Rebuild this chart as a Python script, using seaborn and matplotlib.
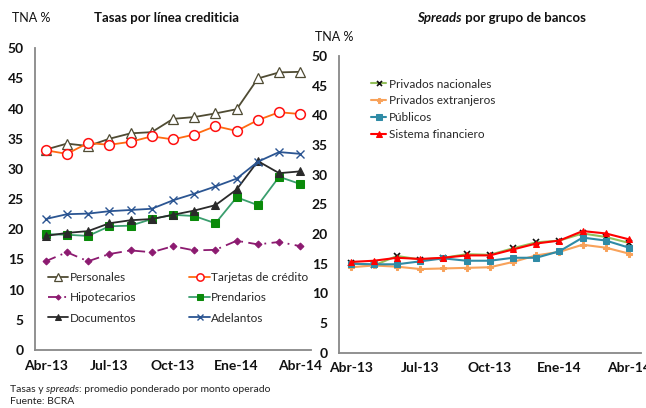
import numpy as np
import pandas as pd
import matplotlib.pyplot as plt
import seaborn as sns

sns.set_style("white")
plt.rcParams['font.family'] = ['Lato', 'DejaVu Sans']

months = ["Abr-13", "May-13", "Jun-13", "Jul-13", "Ago-13", "Sep-13", "Oct-13",
          "Nov-13", "Dic-13", "Ene-14", "Feb-14", "Mar-14", "Abr-14"]
tick_labels = ["Abr-13", "Jul-13", "Oct-13", "Ene-14", "Abr-14"]

# left panel: tasas por linea
personales = [33.2, 34.2, 33.8, 35.0, 35.9, 36.1, 38.3, 38.6, 39.2, 39.9, 45.0, 46.0, 46.1]
tarjetas = [33.1, 32.5, 34.3, 34.0, 34.5, 35.4, 34.9, 35.7, 37.1, 36.3, 38.1, 39.4, 39.1]
hipotecarios = [14.7, 16.2, 14.7, 15.9, 16.5, 16.2, 17.2, 16.5, 16.6, 18.1, 17.5, 17.9, 17.2]
prendarios = [19.2, 19.1, 18.9, 20.5, 20.6, 21.7, 22.4, 22.2, 21.0, 25.3, 24.0, 28.7, 27.5]
documentos = [18.9, 19.4, 19.7, 21.0, 21.5, 21.7, 22.4, 23.1, 24.0, 26.6, 31.3, 29.3, 29.6]
adelantos = [21.7, 22.5, 22.6, 23.0, 23.2, 23.4, 24.8, 25.9, 27.1, 28.4, 31.2, 32.8, 32.5]

# right panel: spreads por grupo de bancos
priv_nac = [15.1, 14.7, 16.3, 15.7, 16.0, 16.6, 16.5, 17.6, 18.6, 18.9, 20.1, 19.5, 18.5]
priv_ext = [14.4, 14.7, 14.5, 14.1, 14.2, 14.3, 14.4, 15.3, 16.4, 17.0, 18.2, 17.7, 16.7]
publicos = [15.0, 14.9, 14.9, 15.4, 15.9, 15.5, 15.5, 16.0, 16.0, 17.1, 19.4, 18.9, 17.7]
sistema = [15.3, 15.5, 16.0, 15.8, 16.0, 16.4, 16.4, 17.4, 18.4, 18.9, 20.5, 20.1, 19.1]

x = np.arange(len(months))

fig = plt.figure(figsize=(6.46, 4.08), dpi=100)
ax1 = fig.add_axes([0.0542, 0.1422, 0.4272, 0.7395])
ax2 = fig.add_axes([0.5248, 0.1355, 0.4669, 0.7272])

left_series = [
    ("Personales", personales, dict(color="#4f4b33", marker="^", mfc="white", mec="#4f4b33", ms=7, mew=0.9)),
    ("Tarjetas de crédito", tarjetas, dict(color="#ff6a10", marker="o", mfc="white", mec="#ff1010", ms=7, mew=1.1)),
    ("Hipotecarios", hipotecarios, dict(color="#8c1a70", marker="D", mfc="#8c1a70", mec="#8c1a70", ms=3.5, linestyle=(0, (6, 3, 1, 3)))),
    ("Prendarios", prendarios, dict(color="#3a9e6e", marker="s", mfc="#0a8a0a", mec="#0a8a0a", ms=6)),
    ("Documentos", documentos, dict(color="#2a2a2a", marker="^", mfc="#2a2a2a", mec="#2a2a2a", ms=5.5)),
    ("Adelantos", adelantos, dict(color="#2b5592", marker="x", mec="#2b5592", ms=6, mew=1.0)),
]
for name, vals, kw in left_series:
    sns.lineplot(x=x, y=vals, ax=ax1, label=name, linewidth=1.3, **kw)

right_series = [
    ("Privados nacionales", priv_nac, dict(color="#93c05a", marker="x", mec="#111111", ms=4.5, mew=1.2)),
    ("Privados extranjeros", priv_ext, dict(color="#f8a25a", marker="P", mfc="#f8a25a", mec="#f8a25a", ms=4.5)),
    ("Públicos", publicos, dict(color="#2f8ba6", marker="s", mfc="#2f8ba6", mec="#2f8ba6", ms=5)),
    ("Sistema financiero", sistema, dict(color="#ff0000", marker="^", mfc="#ff0000", mec="#ff0000", ms=5)),
]
for name, vals, kw in right_series:
    sns.lineplot(x=x, y=vals, ax=ax2, label=name, linewidth=1.5, **kw)

for ax in (ax1, ax2):
    ax.set_xlim(-0.5, 12.5)
    ax.set_ylim(0, 50)
    ax.set_yticks(range(0, 51, 5))
    ax.set_xticks([0, 3, 6, 9, 12])
    ax.set_xticklabels(tick_labels)
    ax.set_xticks([2.5, 5.5, 8.5, 11.5], minor=True)
    ax.tick_params(axis="x", which="major", length=0, pad=7)
    ax.tick_params(axis="x", which="minor", direction="in", length=4, color="#777777", width=1)
    ax.tick_params(axis="y", direction="out", length=4, color="#777777", width=1, pad=4)
    for lab in ax.get_xticklabels() + ax.get_yticklabels():
        lab.set_fontweight("bold")
        lab.set_fontsize(10)
        lab.set_color("#111111")
    for s in ("top", "right"):
        ax.spines[s].set_visible(False)
    for s in ("left", "bottom"):
        ax.spines[s].set_color("#888888")
        ax.spines[s].set_linewidth(1.3)
    ax.set_xlabel("")
    ax.set_ylabel("")
    ax.grid(False)

h, l = ax1.get_legend_handles_labels()
order = [0, 2, 4, 1, 3, 5]
ax1.legend([h[i] for i in order], [l[i] for i in order], ncol=2, frameon=False,
           loc="upper left", bbox_to_anchor=(0.03, 0.275), fontsize=8.5,
           handlelength=1.7, handletextpad=0.15, columnspacing=4.5, labelspacing=0.8,
           borderaxespad=0, markerscale=0.75)
ax2.legend(frameon=False, loc="upper left", bbox_to_anchor=(0.09, 0.94), fontsize=8.5,
           handlelength=1.3, handletextpad=0.2, labelspacing=0.5, borderaxespad=0,
           markerscale=0.8)


def text_run(x0, y0, parts, **kw):
    # draw consecutive text pieces, each starting where the previous one ends
    fig.canvas.draw()
    r = fig.canvas.get_renderer()
    xpos = x0
    for s, extra in parts:
        t = fig.text(xpos, y0, s, va="center", **kw, **extra)
        bb = t.get_window_extent(renderer=r)
        xpos = bb.x1 / fig.bbox.width


fig.text(12 / 646, 1 - 18 / 408, "TNA %", fontsize=9, va="center", color="#111111")
fig.text(166 / 646, 1 - 18 / 408, "Tasas por línea crediticia", fontsize=9.5,
         fontweight="bold", ha="center", va="center", color="#111111")
fig.text(315 / 646, 1 - 37 / 408, "TNA %", fontsize=9, va="center", color="#111111")
text_run(417 / 646, 1 - 18 / 408,
         [("Spreads", dict(style="italic")), ("\u00a0por grupo de bancos", {})],
         fontsize=9.5, fontweight="bold", color="#111111")

text_run(10 / 646, 1 - 389 / 408,
         [("Tasas y ", {}), ("spreads", dict(style="italic")),
          (": promedio ponderado por monto operado", {})],
         fontsize=7.5, color="#222222")
fig.text(10 / 646, 1 - 402 / 408, "Fuente: BCRA", fontsize=7.5, va="center", color="#222222")

fig.savefig("out.png", dpi=100)
